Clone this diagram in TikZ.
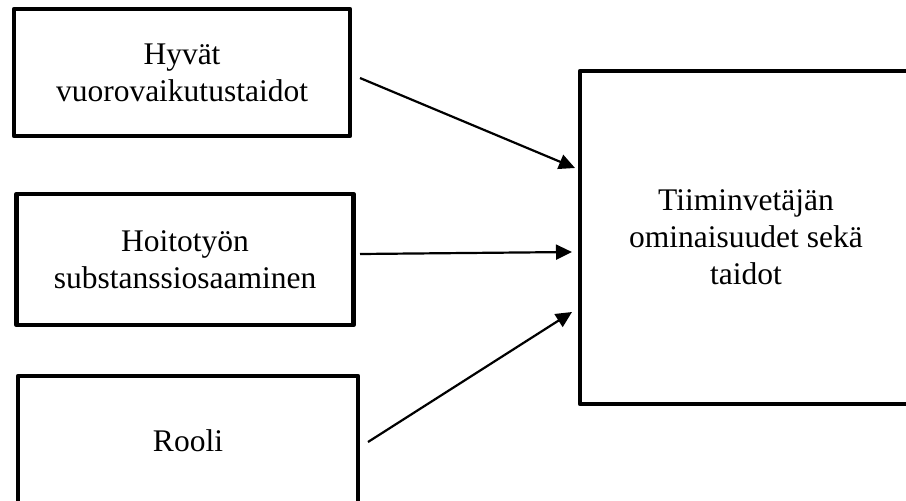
\documentclass[tikz,border=0pt]{standalone}
\usepackage{fontspec}
\setmainfont{Liberation Serif}
\usetikzlibrary{arrows.meta}
\begin{document}
\begin{tikzpicture}[x=1pt,y=-1pt,
  box/.style={draw, line width=4.5pt, line join=round, align=center, inner sep=0pt,
              font=\fontsize{31.5}{37}\selectfont},
  link/.style={line width=2.2pt, -{Triangle[length=16pt,width=15pt]}}]
\useasboundingbox (0,0) rectangle (906,501);
\clip (0,0) rectangle (906,501);

% input boxes on the left
\node[box, minimum width=336pt, minimum height=127pt] (b1) at (182,72.5)
  {Hyvät\\vuorovaikutustaidot};
\node[box, minimum width=337pt, minimum height=131pt] (b2) at (185,259.5)
  {Hoitotyön\\substanssiosaaminen};
\node[box, minimum width=340pt, minimum height=130pt] (b3) at (188,441)
  {Rooli};

% target box on the right (runs past the right edge)
\node[box, minimum width=332pt, minimum height=333pt] (goal) at (746,237.5)
  {Tiiminvetäjän\\ominaisuudet sekä\\taidot};

% arrow end points
\coordinate (s1) at (360,78);
\coordinate (t1) at (575,168);
\coordinate (s2) at (360,254);
\coordinate (t2) at (572,252);
\coordinate (s3) at (368,442);
\coordinate (t3) at (572,312);

\draw[link] (s1) -- (t1);
\draw[link] (s2) -- (t2);
\draw[link] (s3) -- (t3);
\end{tikzpicture}
\end{document}
